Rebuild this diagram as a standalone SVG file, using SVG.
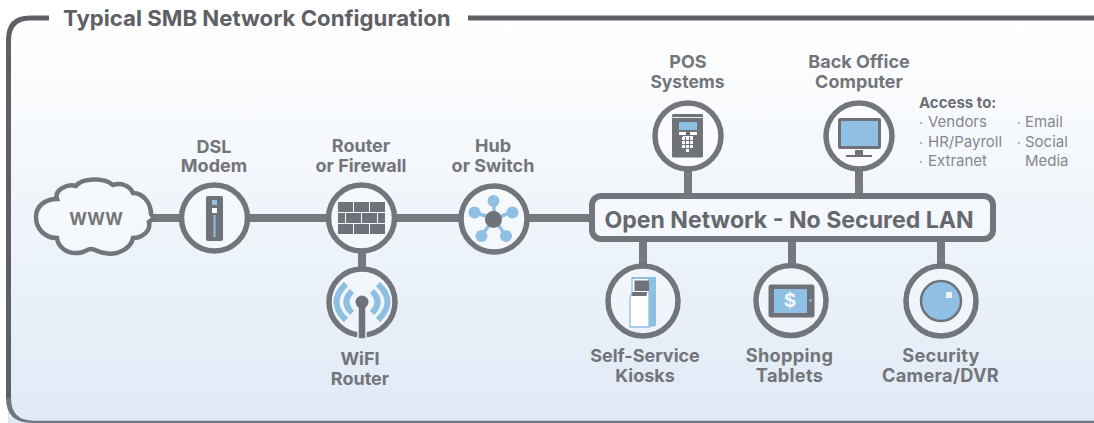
<svg xmlns="http://www.w3.org/2000/svg" width="1094" height="423" viewBox="0 0 1094 423">
<defs>
<linearGradient id="bg" x1="0" y1="0" x2="0" y2="1"><stop offset="0" stop-color="#ffffff"/><stop offset="1" stop-color="#e0eaf6"/></linearGradient>
</defs>
<style>
.t{font-family:"Inter","Open Sans","Liberation Sans",sans-serif;font-weight:700;fill:#73757a;font-size:18px;text-anchor:middle}
.u{font-size:18.200px;letter-spacing:.3px}
.s{font-family:"Inter","Open Sans","Liberation Sans",sans-serif;fill:#84878c;font-size:15px}
.r{fill:#fff;fill-opacity:.35;stroke:#72757b;stroke-width:5.500}
.l{stroke:#77797f;stroke-width:8;fill:none}
.g{fill:#6f7279}
.b{fill:#8fc0e4}
.w{fill:#fff}
</style>
<g id="frame">
<path d="M8 423V40Q8 17 31 17H1094V423Z" fill="url(#bg)" stroke="none"/>
<rect x="0" y="0" width="1094" height="17" fill="#fff"/>
<path d="M8.500 400V40Q8.500 18 30 18H49M468 18H1094" fill="none" stroke="#5f6066" stroke-width="5"/>
<path d="M6 398Q6 423 32 423H1094V420.700H34Q11 420.700 11 398Z" fill="#6f777e"/>
<text x="63" y="26" class="t" style="text-anchor:start;font-size:22.200px;fill:#5f6066">Typical SMB Network Configuration</text>
</g>
<g id="connectors">
<path class="l" d="M151 218H181M248 218H328M395 218H460M528 218H590M362 250V270M688 170V196M859 170V196M643 240V266M792 240V266M941 240V266"/>
</g>
<g id="www">
<path d="M57 238C44 238 36 228 36 217C36 207 44 199 57 199C54 191 66 183 76 186C82 178 104 177 113 185C121 182 130 186 133 193C143 193 151 203 151 214L154 218L149 222C151 231 142 238 133 238C131 248 118 256 105 253C100 253 95 249 91 249C87 249 84 253 78 253C67 254 58 247 57 238Z" fill="#fff" fill-opacity=".35" stroke="#72757b" stroke-width="4.500"/>
<text x="96" y="225" class="t" style="font-size:17px">WWW</text>
</g>
<g id="dsl">
<circle class="r" cx="214.500" cy="218" r="33"/>
<rect class="g" x="206" y="196" width="17" height="45" rx="2"/>
<rect class="b" x="212" y="200" width="5" height="5"/>
<rect class="w" x="212" y="208" width="5" height="5"/>
<rect class="b" x="213.500" y="215" width="2" height="22"/>
<text x="214" y="153" class="t">DSL</text><text x="214" y="172" class="t">Modem</text>
</g>
<g id="router">
<circle class="r" cx="361.500" cy="218" r="33"/>
<path class="g" d="M338 202h15v10h-15zM354 202h15v10h-15zM370 202h15v10h-15zM338 213h7v10h-7zM346 213h15v10h-15zM362 213h15v10h-15zM378 213h7v10h-7zM338 224h15v10h-15zM354 224h15v10h-15zM370 224h15v10h-15z"/>
<text x="361" y="152" class="t">Router</text><text x="361" y="172" class="t">or Firewall</text>
</g>
<g id="wifi">
<circle class="r" cx="362" cy="302" r="33"/>
<path d="M346 284Q327 302 346 320M352 291Q341 302 352 313M378 284Q397 302 378 320M372 291Q383 302 372 313" fill="none" stroke="#8fc0e4" stroke-width="6"/>
<rect x="358" y="300" width="8" height="39" class="g" stroke="#eef3fa" stroke-width="1.500"/>
<circle class="g" cx="362" cy="302" r="6.500"/>
<text x="360" y="365" class="t">WiFI</text><text x="360" y="385" class="t">Router</text>
</g>
<g id="hub">
<circle class="r" cx="494" cy="219" r="33"/>
<path d="M494 219V202M494 219L474 212M494 219L512 212M494 219L481 236M494 219L506 236" stroke="#8fc0e4" stroke-width="3.500"/>
<circle class="b" cx="493.500" cy="201" r="6"/><circle class="b" cx="474.500" cy="212.500" r="6"/><circle class="b" cx="512.500" cy="212.500" r="6"/><circle class="b" cx="481.500" cy="236" r="6"/><circle class="b" cx="506" cy="236" r="6"/>
<circle class="g" cx="493.500" cy="219.500" r="8.500"/>
<text x="493" y="152" class="t">Hub</text><text x="493" y="172" class="t">or Switch</text>
</g>
<g id="bus">
<rect x="592" y="196" width="401" height="43" rx="9" fill="#fff" fill-opacity=".35" stroke="#72757b" stroke-width="6"/>
<text x="789" y="228" class="t" style="font-size:23.100px;fill:#66686e">Open Network - No Secured LAN</text>
</g>
<g id="pos">
<circle class="r" cx="688" cy="136" r="33"/>
<rect class="g" x="672" y="114" width="31" height="43.500" rx="1.500"/>
<rect x="672" y="117" width="31" height="1" fill="#e8edf4"/>
<rect class="b" x="679" y="122" width="18" height="8"/>
<path class="w" d="M679 132h7v3h-7zM690 132h7v3h-7zM683 136h10v1h-10zM682 137h3v3h-3zM686 137h3v3h-3zM690 137h3v3h-3zM682 141h3v3h-3zM686 141h3v3h-3zM690 141h3v3h-3zM682 145h3v3h-3zM686 145h3v3h-3zM690 145h3v3h-3zM686 149h3v3h-3z"/>
<text x="688" y="68" class="t">POS</text><text x="687.500" y="88" class="t" style="font-size:17.500px">Systems</text>
</g>
<g id="office">
<circle class="r" cx="859" cy="136" r="33"/>
<rect class="g" x="838" y="118" width="43" height="31" rx="2"/>
<rect class="b" x="841" y="121" width="37" height="25"/>
<rect class="g" x="855" y="150" width="8" height="5"/>
<rect class="g" x="846" y="155" width="26" height="2"/>
<text x="859" y="68" class="t">Back Office</text><text x="859" y="88" class="t">Computer</text>
</g>
<g id="access">
<text x="919" y="108" class="s" style="font-weight:700;fill:#6d6e73;font-size:15px">Access to:</text>
<g class="s"><text x="928" y="127">Vendors</text><text x="928" y="147">HR/Payroll</text><text x="928" y="166">Extranet</text><text x="1025" y="127">Email</text><text x="1025" y="147">Social</text><text x="1025" y="166">Media</text></g>
<path d="M920 122h2v2h-2zM920 142h2v2h-2zM920 161h2v2h-2zM1018 122h2v2h-2zM1018 142h2v2h-2z" fill="#8fc0e4"/>
</g>
<g id="kiosk">
<circle class="r" cx="643" cy="301" r="35"/>
<path d="M632 278H649V327H630V298L632 292Z" fill="#fff" stroke="#8fc0e4" stroke-width="1.300"/>
<path class="b" d="M649 278L656 277V326L649 327Z"/>
<path class="b" d="M632 277H656V279H632Z"/>
<path class="g" d="M634.500 280.500H649V291H634.500ZM632.500 292H647L646.500 296H631.500Z"/>
<text x="645" y="362" class="t">Self-Service</text><text x="645" y="382" class="t">Kiosks</text>
</g>
<g id="tablet">
<circle class="r" cx="791" cy="300.500" r="35"/>
<rect class="g" x="768.500" y="284.500" width="46" height="33" rx="2.500"/>
<rect class="b" x="774" y="289" width="33" height="24"/>
<circle class="b" cx="810.500" cy="300.500" r="1.300"/>
<text x="790" y="307" class="t" style="fill:#f0f5fb;font-size:19px">$</text>
<text x="789.500" y="362" class="t u">Shopping</text><text x="789.500" y="382" class="t u">Tablets</text>
</g>
<g id="camera">
<circle class="r" cx="941" cy="301" r="35"/>
<circle class="b" cx="941" cy="301" r="20" stroke="#6f7279" stroke-width="2.500"/>
<rect x="946" y="292" width="6" height="6" fill="#eef3fa"/>
<text x="941" y="362" class="t u">Security</text><text x="940.500" y="382" class="t u">Camera/DVR</text>
</g>
</svg>
